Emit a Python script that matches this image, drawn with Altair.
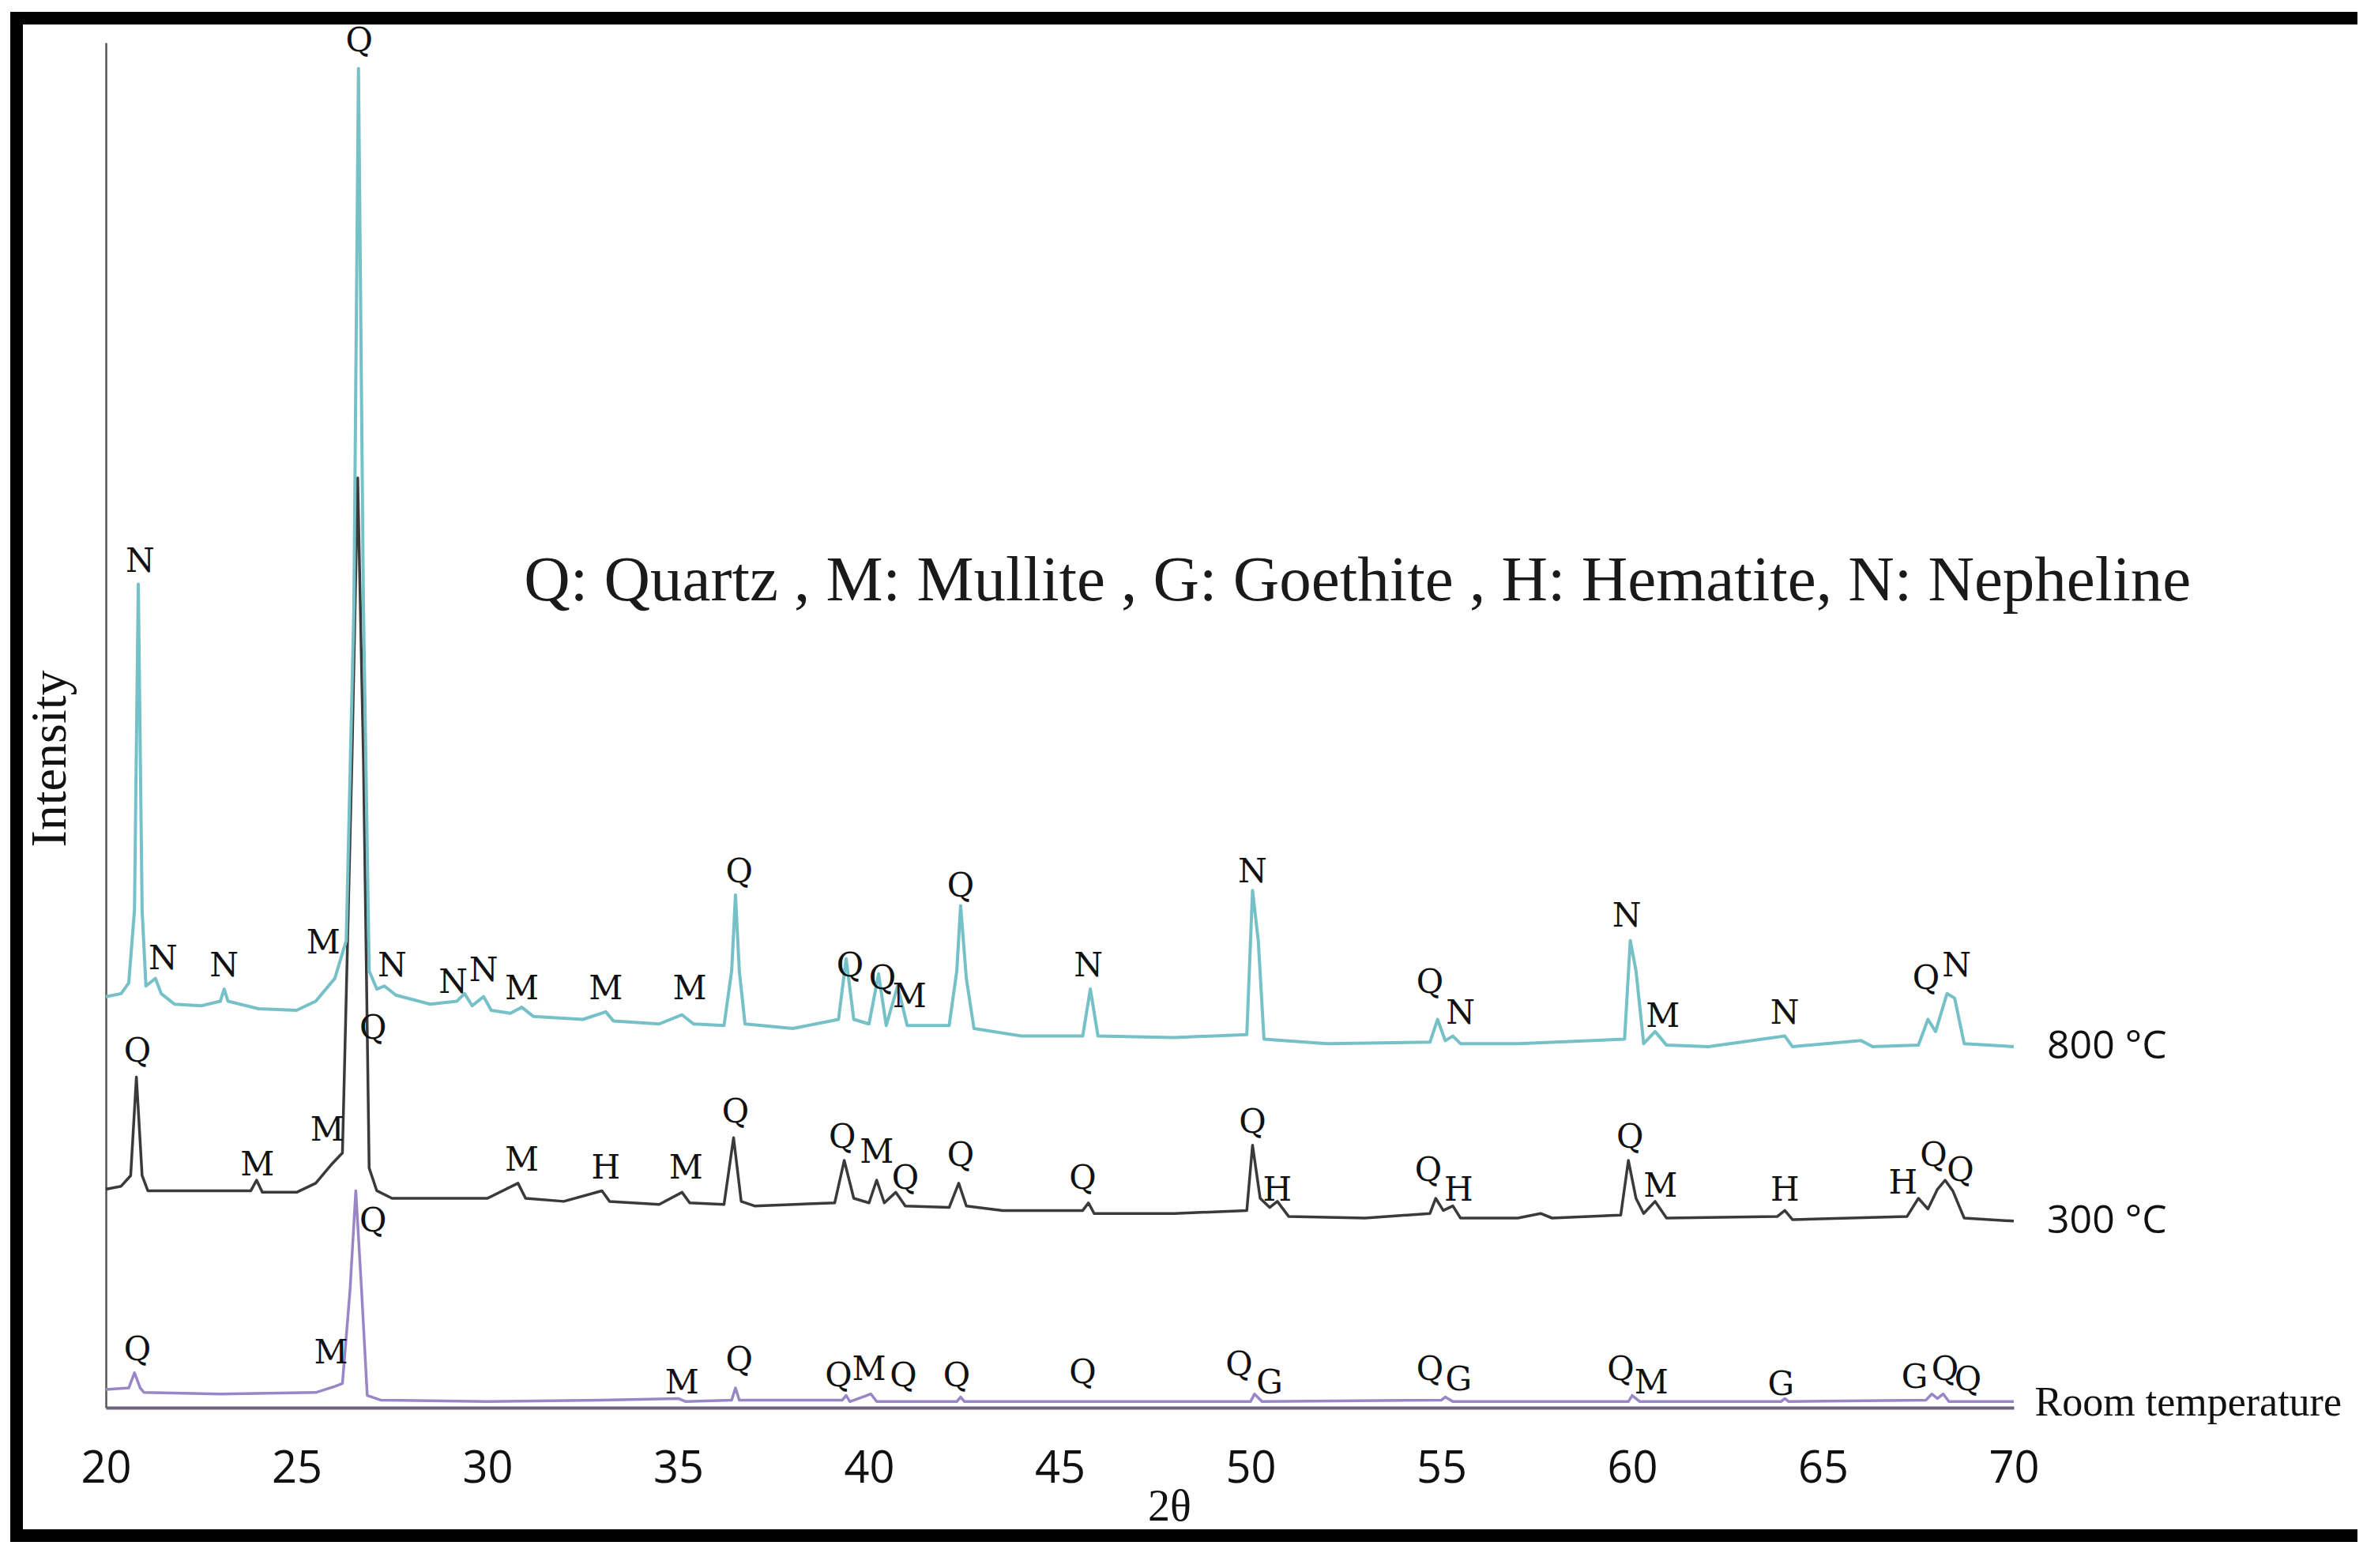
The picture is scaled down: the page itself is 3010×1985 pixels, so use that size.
import altair as alt
import pandas as pd

# ---------------- data ----------------
# 800 °C trace (cyan)
x_800 = [20.0, 20.4, 20.6, 20.75, 20.85, 20.95, 21.05, 21.3, 21.45, 21.8, 22.5, 23.0, 23.1, 23.2,
         24.0, 25.0, 25.5, 26.0, 26.3, 26.5, 26.62, 26.75, 26.9, 27.1, 27.3, 27.6, 28.5, 29.2,
         29.4, 29.6, 29.9, 30.1, 30.6, 30.9, 31.2, 32.5, 33.1, 33.3, 34.5, 35.1, 35.4, 36.2,
         36.4, 36.5, 36.6, 36.75, 38.0, 39.2, 39.4, 39.6, 40.0, 40.25, 40.45, 40.75, 41.0, 42.1,
         42.3, 42.4, 42.55, 42.75, 44.0, 45.6, 45.8, 46.0, 48.0, 49.9, 50.05, 50.2, 50.35, 52.0,
         54.7, 54.9, 55.1, 55.3, 55.5, 57.0, 59.8, 59.95, 60.1, 60.3, 60.6, 60.9, 62.0, 64.0,
         64.2, 66.0, 66.3, 67.5, 67.75, 67.95, 68.25, 68.45, 68.7, 70.0]
y_800 = [271, 273, 280, 328, 543, 328, 278, 283, 273, 266, 265, 268, 276, 268,
         263, 262, 268, 283, 308, 528, 883, 528, 288, 276, 278, 272, 266, 268,
         273, 265, 271, 262, 260, 264, 258, 256, 261, 255, 253, 259, 253, 252,
         288, 338, 288, 253, 250, 256, 296, 256, 253, 286, 252, 278, 252, 252,
         288, 331, 283, 250, 245, 245, 276, 245, 244, 246, 341, 308, 243, 240,
         241, 256, 242, 245, 240, 240, 243, 308, 288, 240, 248, 239, 238, 245,
         238, 242, 238, 239, 256, 248, 273, 270, 240, 238]

# 300 °C trace (black)
x_300 = [20.0, 20.4, 20.65, 20.8, 20.95, 21.1, 22.0, 23.8, 23.95, 24.1, 25.0, 25.5, 25.9, 26.2,
         26.45, 26.6, 26.75, 26.9, 27.1, 27.5, 29.0, 30.0, 30.8, 31.0, 32.0, 33.0, 33.2, 34.5,
         35.1, 35.3, 36.2, 36.45, 36.65, 37.0, 39.1, 39.35, 39.6, 40.0, 40.2, 40.4, 40.7, 40.95,
         42.1, 42.35, 42.55, 43.5, 45.6, 45.75, 45.9, 48.0, 49.9, 50.05, 50.25, 50.5, 50.7, 51.0,
         53.0, 54.7, 54.85, 55.05, 55.3, 55.5, 57.0, 57.6, 57.9, 59.7, 59.9, 60.1, 60.3, 60.6,
         60.9, 63.8, 64.0, 64.2, 67.2, 67.5, 67.75, 68.0, 68.2, 68.4, 68.7, 70.0]
y_300 = [144, 146, 153, 218, 153, 143, 143, 143, 150, 142, 142, 148, 160, 168,
         428, 613, 428, 158, 143, 138, 138, 138, 148, 138, 136, 143, 136, 134,
         142, 135, 134, 178, 136, 133, 135, 163, 138, 135, 150, 135, 142, 133,
         132, 148, 133, 130, 130, 135, 128, 128, 130, 173, 138, 132, 136, 126,
         125, 128, 138, 130, 133, 125, 125, 128, 125, 127, 163, 138, 128, 136,
         125, 126, 130, 124, 126, 138, 131, 144, 150, 143, 125, 123]

# Room temperature trace (purple)
x_rt = [20.0, 20.6, 20.75, 20.9, 21.0, 23.0, 25.5, 26.0, 26.2, 26.4, 26.55, 26.7, 26.85, 27.2,
        30.0, 33.0, 35.0, 35.2, 36.4, 36.5, 36.6, 39.3, 39.4, 39.5, 40.05, 40.2, 42.3, 42.4,
        42.5, 50.0, 50.1, 50.3, 55.0, 55.1, 55.3, 59.9, 60.0, 60.2, 63.9, 64.0, 64.1, 67.7,
        67.85, 68.0, 68.15, 68.3, 70.0]
y_rt = [12, 13, 23, 13, 10, 9, 10, 14, 16, 78, 143, 78, 8, 5,
        4, 5, 6, 4, 5, 13, 5, 5, 8, 4, 9, 4, 4, 7,
        4, 4, 9, 4, 5, 7, 4, 4, 8, 4, 4, 6, 4, 5,
        9, 6, 9, 4, 4]

# phase labels above the peaks
lab_800_txt = ["N", "N", "N", "M", "Q", "N", "N", "N", "M", "M", "M", "Q", "Q", "Q", "M", "Q",
               "N", "N", "Q", "N", "N", "M", "N", "Q", "N"]
lab_800_x = [20.9, 21.5, 23.1, 25.7, 26.64, 27.5, 29.1, 29.9, 30.9, 33.1, 35.3, 36.6, 39.5, 40.35,
             41.06, 42.4, 45.75, 50.05, 54.7, 55.5, 59.86, 60.8, 64.0, 67.7, 68.5]
lab_800_y = [558, 296, 291, 306, 901, 291, 280, 288, 276, 276, 276, 353, 291, 283,
             271, 344, 291, 353, 280, 260, 324, 258, 260, 283, 291]

lab_300_txt = ["Q", "M", "M", "Q", "M", "H", "M", "Q", "Q", "M", "Q", "Q", "Q", "Q", "H", "Q",
               "H", "Q", "M", "H", "H", "Q", "Q"]
lab_300_x = [20.83, 23.97, 25.8, 27.0, 30.9, 33.1, 35.2, 36.5, 39.3, 40.2, 40.95, 42.4, 45.6,
             50.05, 50.7, 54.66, 55.45, 59.94, 60.74, 64.0, 67.1, 67.9, 68.6]
lab_300_y = [235, 160, 183, 250, 163, 158, 158, 195, 178, 168, 151, 166, 151,
             188, 143, 156, 143, 178, 146, 143, 148, 166, 156]

lab_rt_txt = ["Q", "M", "Q", "M", "Q", "Q", "M", "Q", "Q", "Q", "Q", "G", "Q", "G", "Q", "M",
              "G", "G", "Q", "Q"]
lab_rt_x = [20.83, 25.9, 27.0, 35.1, 36.6, 39.2, 40.0, 40.9, 42.3, 45.6, 49.7, 50.5, 54.7, 55.45,
            59.7, 60.5, 63.9, 67.4, 68.2, 68.8]
lab_rt_y = [38, 36, 123, 16, 31, 21, 25, 21, 21, 23, 28, 16, 25, 18,
            25, 16, 15, 20, 25, 18]

series_names = ["800 °C", "300 °C", "Room temperature"]
series_label_x = [70.87, 70.87, 70.55]
series_label_y = [238, 123, 3]

legend_text = "Q: Quartz , M: Mullite , G: Goethite , H: Hematite, N: Nepheline"
legend_x = [52.8]
legend_y = [545]

x_ticks = [20, 25, 30, 35, 40, 45, 50, 55, 60, 65, 70]

# ---------------- build ----------------
W, H = 2415, 1728
PAD_L, PAD_T, PAD_R, PAD_B = 126, 46, 450, 170
RIGHT_EDGE = 2850                  # top/bottom frame bands end here (plot coordinates)
BOTTOM_EDGE = H + PAD_B            # bottom of the drawing, in plot coordinates

xs = alt.Scale(domain=[20, 70], nice=False, zero=False)
ys = alt.Scale(domain=[0, 900], nice=False, zero=False)

x_axis = alt.Axis(values=x_ticks, ticks=False, grid=False, labelFont="Open Sans",
                  labelFontSize=56, labelColor="#111111", labelPadding=50,
                  domainColor="#6d6580", domainWidth=4, title="2θ",
                  titleFont="Liberation Serif", titleFontSize=56, titleFontWeight="normal",
                  titleColor="#111111", titleX=1346, titleY=142, titleBaseline="alphabetic",
                  labelFlush=False)
y_axis = alt.Axis(ticks=False, labels=False, grid=False, domainColor="#555555",
                  domainWidth=2.5, title="Intensity", titleFont="Liberation Serif",
                  titleFontSize=64, titleFontWeight="normal", titleColor="#111111",
                  titleX=-52, titleY=906, titleBaseline="alphabetic")


def trace(xv, yv, color, sw=3.5):
    df = pd.DataFrame({"x": xv, "y": yv})
    return alt.Chart(df).mark_line(color=color, strokeWidth=sw, strokeJoin="round").encode(
        x=alt.X("x:Q", scale=xs, axis=x_axis),
        y=alt.Y("y:Q", scale=ys, axis=y_axis),
        order="x:Q",
    )


def labels(txt, xv, yv):
    df = pd.DataFrame({"t": txt, "x": xv, "y": yv})
    return alt.Chart(df).mark_text(font="DejaVu Serif", fontSize=42, color="#111111",
                                   baseline="middle", align="center").encode(
        x=alt.X("x:Q", scale=xs), y=alt.Y("y:Q", scale=ys), text="t:N")


one = alt.Data(values=[{"a": 1}])
# outer figure frame: filled black bands (top, left, bottom), open on the right
frame_top = alt.Chart(one).mark_rect(color="black").encode(
    x=alt.value(-121), x2=alt.value(RIGHT_EDGE), y=alt.value(-39), y2=alt.value(-23))
frame_left = alt.Chart(one).mark_rect(color="black").encode(
    x=alt.value(-121), x2=alt.value(-105), y=alt.value(-39), y2=alt.value(BOTTOM_EDGE))
frame_bottom = alt.Chart(one).mark_rect(color="black").encode(
    x=alt.value(-121), x2=alt.value(RIGHT_EDGE), y=alt.value(BOTTOM_EDGE - 16),
    y2=alt.value(BOTTOM_EDGE))

sdf = pd.DataFrame({"t": series_names, "x": series_label_x, "y": series_label_y})
lab_sans = alt.Chart(sdf.iloc[:2]).mark_text(font="Open Sans", fontSize=50, color="#111111",
                                             align="left", baseline="middle").encode(
    x=alt.X("x:Q", scale=xs), y=alt.Y("y:Q", scale=ys), text="t:N")
lab_serif = alt.Chart(sdf.iloc[2:]).mark_text(font="Liberation Serif", fontSize=52,
                                              color="#111111", align="left",
                                              baseline="middle").encode(
    x=alt.X("x:Q", scale=xs), y=alt.Y("y:Q", scale=ys), text="t:N")

ldf = pd.DataFrame({"t": [legend_text], "x": legend_x, "y": legend_y})
legend = alt.Chart(ldf).mark_text(font="Liberation Serif", fontSize=81, color="#1a1a1a",
                                  align="center", baseline="middle").encode(
    x=alt.X("x:Q", scale=xs), y=alt.Y("y:Q", scale=ys), text="t:N")

chart = alt.layer(
    trace(x_rt, y_rt, "#9a86c6"),
    trace(x_300, y_300, "#3a3a3a"),
    trace(x_800, y_800, "#76c0c8", 4),
    labels(lab_800_txt, lab_800_x, lab_800_y),
    labels(lab_300_txt, lab_300_x, lab_300_y),
    labels(lab_rt_txt, lab_rt_x, lab_rt_y),
    lab_sans, lab_serif, legend, frame_top, frame_left, frame_bottom,
).properties(
    width=W, height=H,
    autosize=alt.AutoSizeParams(type="none"),
    padding={"left": PAD_L, "top": PAD_T, "right": PAD_R, "bottom": PAD_B},
    background="white",
).configure_view(stroke=None)

chart.save("out.html", embed_options={"renderer": "svg", "actions": False})
